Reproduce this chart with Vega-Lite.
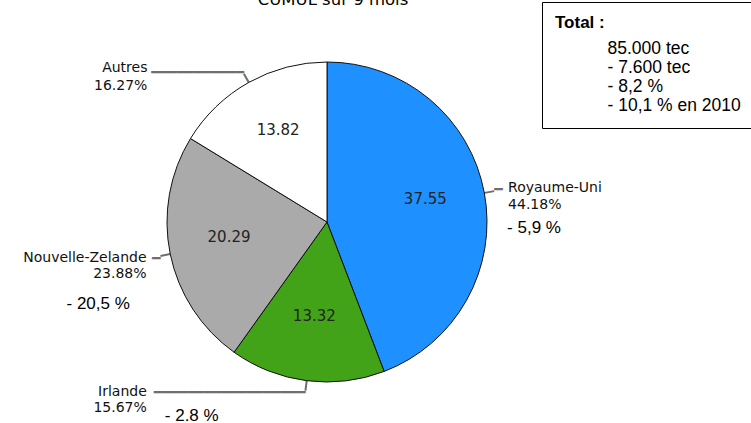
{
  "$schema": "https://vega.github.io/schema/vega-lite/v6.json",
  "autosize": "none",
  "width": 654,
  "height": 402,
  "padding": {"left": 0, "top": 21, "right": 97, "bottom": 0},
  "background": "white",
  "view": {"stroke": null},
  "title": {"text": "CUMUL sur 9 mois", "frame": "group", "anchor": "middle", "offset": -20, "baseline": "alphabetic", "font": "DejaVu Sans", "fontSize": 16.5, "fontWeight": "normal", "color": "#000", "dx": 6},
  "data": {"values": [
    {"pays": "Royaume-Uni", "valeur": 37.55, "part": "44.18%", "evolution": "- 5,9 %", "ordre": 1},
    {"pays": "Irlande", "valeur": 13.32, "part": "15.67%", "evolution": "- 2.8 %", "ordre": 2},
    {"pays": "Nouvelle-Zelande", "valeur": 20.29, "part": "23.88%", "evolution": "- 20,5 %", "ordre": 3},
    {"pays": "Autres", "valeur": 13.82, "part": "16.27%", "evolution": "", "ordre": 4}
  ]},
  "layer": [
    {
      "mark": {"type": "arc", "radius": 170, "padAngle": 3, "filled": false, "stroke": "#6e6e6e", "strokeWidth": 2},
      "encoding": {
        "theta": {"field": "valeur", "type": "quantitative", "stack": true},
        "order": {"field": "ordre", "type": "quantitative"}
      }
    },
    {
      "mark": {"type": "arc", "radius": 160, "stroke": "#111", "strokeWidth": 1},
      "encoding": {
        "theta": {"field": "valeur", "type": "quantitative", "stack": true},
        "order": {"field": "ordre", "type": "quantitative"},
        "color": {"field": "pays", "type": "nominal", "scale": {"domain": ["Royaume-Uni", "Irlande", "Nouvelle-Zelande", "Autres"], "range": ["#1E90FF", "#43A318", "#AAAAAA", "#FFFFFF"]}, "legend": null}
      }
    },
    {
      "mark": {"type": "text", "radius": 100, "font": "DejaVu Sans", "fontSize": 15, "fill": "#222", "dy": -5},
      "encoding": {
        "theta": {"field": "valeur", "type": "quantitative", "stack": true},
        "order": {"field": "ordre", "type": "quantitative"},
        "text": {"field": "valeur", "type": "quantitative", "format": ".2f"}
      }
    },
    {
      "mark": {"type": "text", "radius": 170, "font": "DejaVu Sans", "fontSize": 14, "fill": "#6e6e6e", "align": "left", "baseline": "middle", "dx": 0, "dy": -1},
      "encoding": {
        "theta": {"field": "valeur", "type": "quantitative", "stack": true},
        "order": {"field": "ordre", "type": "quantitative"},
        "text": {"condition": {"test": "datum.pays === 'Royaume-Uni'", "value": "━"}, "value": ""}
      }
    },
    {
      "mark": {"type": "text", "radius": 170, "font": "DejaVu Sans", "fontSize": 14, "fill": "#6e6e6e", "align": "right", "baseline": "middle", "dx": 0, "dy": 2},
      "encoding": {
        "theta": {"field": "valeur", "type": "quantitative", "stack": true},
        "order": {"field": "ordre", "type": "quantitative"},
        "text": {"condition": {"test": "datum.pays === 'Irlande'", "value": "━━━━━━━━━━━━━━━━━━"}, "value": ""}
      }
    },
    {
      "mark": {"type": "text", "radius": 170, "font": "DejaVu Sans", "fontSize": 14, "fill": "#6e6e6e", "align": "right", "baseline": "middle", "dx": 0, "dy": 3},
      "encoding": {
        "theta": {"field": "valeur", "type": "quantitative", "stack": true},
        "order": {"field": "ordre", "type": "quantitative"},
        "text": {"condition": {"test": "datum.pays === 'Nouvelle-Zelande'", "value": "━"}, "value": ""}
      }
    },
    {
      "mark": {"type": "text", "radius": 170, "font": "DejaVu Sans", "fontSize": 14, "fill": "#6e6e6e", "align": "right", "baseline": "middle", "dx": 0, "dy": -1},
      "encoding": {
        "theta": {"field": "valeur", "type": "quantitative", "stack": true},
        "order": {"field": "ordre", "type": "quantitative"},
        "text": {"condition": {"test": "datum.pays === 'Autres'", "value": "━━━━━━━━━━━"}, "value": ""}
      }
    },
    {
      "transform": [{"calculate": "datum.pays + '\\n' + datum.part", "as": "etiquette"}],
      "mark": {"type": "text", "radius": 175, "font": "DejaVu Sans", "fontSize": 14, "fill": "#111", "align": "left", "baseline": "middle", "lineBreak": "\n", "lineHeight": 16.5, "dx": 9, "dy": -2},
      "encoding": {
        "theta": {"field": "valeur", "type": "quantitative", "stack": true},
        "order": {"field": "ordre", "type": "quantitative"},
        "text": {"condition": {"test": "datum.pays === 'Royaume-Uni'", "field": "etiquette"}, "value": ""}
      }
    },
    {
      "transform": [{"calculate": "datum.pays + '\\n' + datum.part", "as": "etiquette"}],
      "mark": {"type": "text", "radius": 175, "font": "DejaVu Sans", "fontSize": 14, "fill": "#111", "align": "right", "baseline": "middle", "lineBreak": "\n", "lineHeight": 16.5, "dx": -158, "dy": -4},
      "encoding": {
        "theta": {"field": "valeur", "type": "quantitative", "stack": true},
        "order": {"field": "ordre", "type": "quantitative"},
        "text": {"condition": {"test": "datum.pays === 'Irlande'", "field": "etiquette"}, "value": ""}
      }
    },
    {
      "transform": [{"calculate": "datum.pays + '\\n' + datum.part", "as": "etiquette"}],
      "mark": {"type": "text", "radius": 175, "font": "DejaVu Sans", "fontSize": 14, "fill": "#111", "align": "right", "baseline": "middle", "lineBreak": "\n", "lineHeight": 16, "dx": -9, "dy": 1.5},
      "encoding": {
        "theta": {"field": "valeur", "type": "quantitative", "stack": true},
        "order": {"field": "ordre", "type": "quantitative"},
        "text": {"condition": {"test": "datum.pays === 'Nouvelle-Zelande'", "field": "etiquette"}, "value": ""}
      }
    },
    {
      "transform": [{"calculate": "datum.pays + '\\n' + datum.part", "as": "etiquette"}],
      "mark": {"type": "text", "radius": 175, "font": "DejaVu Sans", "fontSize": 14, "fill": "#111", "align": "right", "baseline": "middle", "lineBreak": "\n", "lineHeight": 17.5, "dx": -94, "dy": -1},
      "encoding": {
        "theta": {"field": "valeur", "type": "quantitative", "stack": true},
        "order": {"field": "ordre", "type": "quantitative"},
        "text": {"condition": {"test": "datum.pays === 'Autres'", "field": "etiquette"}, "value": ""}
      }
    },
    {
      "mark": {"type": "text", "radius": 175, "font": "Liberation Sans", "fontSize": 17, "fill": "#000", "align": "left", "baseline": "middle", "dx": 8, "dy": 38},
      "encoding": {
        "theta": {"field": "valeur", "type": "quantitative", "stack": true},
        "order": {"field": "ordre", "type": "quantitative"},
        "text": {"condition": {"test": "datum.pays === 'Royaume-Uni'", "field": "evolution"}, "value": ""}
      }
    },
    {
      "mark": {"type": "text", "radius": 175, "font": "Liberation Sans", "fontSize": 17, "fill": "#000", "align": "left", "baseline": "middle", "dx": -89, "dy": 47},
      "encoding": {
        "theta": {"field": "valeur", "type": "quantitative", "stack": true},
        "order": {"field": "ordre", "type": "quantitative"},
        "text": {"condition": {"test": "datum.pays === 'Nouvelle-Zelande'", "field": "evolution"}, "value": ""}
      }
    },
    {
      "mark": {"type": "text", "radius": 175, "font": "Liberation Sans", "fontSize": 17, "fill": "#000", "align": "left", "baseline": "middle", "dx": -140, "dy": 20},
      "encoding": {
        "theta": {"field": "valeur", "type": "quantitative", "stack": true},
        "order": {"field": "ordre", "type": "quantitative"},
        "text": {"condition": {"test": "datum.pays === 'Irlande'", "field": "evolution"}, "value": ""}
      }
    },
    {
      "data": {"values": [
        {"ligne": "85.000 tec"},
        {"ligne": "- 7.600 tec"},
        {"ligne": "- 8,2 %"},
        {"ligne": "- 10,1 % en 2010"}
      ]},
      "mark": {"type": "point", "opacity": 0},
      "encoding": {
        "shape": {"field": "ligne", "type": "nominal",
          "scale": {"domain": ["85.000 tec", "- 7.600 tec", "- 8,2 %", "- 10,1 % en 2010"]},
          "legend": {"title": "Total :", "orient": "none", "legendX": 542, "legendY": -19, "strokeColor": "#000", "fillColor": "#fff", "padding": 13,
            "titleFont": "Liberation Sans", "titleFontSize": 17, "titleFontWeight": "bold", "titleColor": "#000", "titlePadding": 8,
            "labelFont": "Liberation Sans", "labelFontSize": 17.5, "labelColor": "#000", "labelLimit": 400,
            "symbolOpacity": 0, "symbolStrokeWidth": 0, "symbolSize": 100, "labelOffset": 35, "rowPadding": 0}
        }
      }
    }
  ]
}
